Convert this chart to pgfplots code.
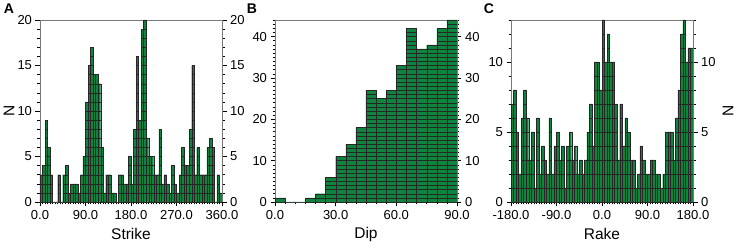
\documentclass[border=0pt]{standalone}
\usepackage{pgfplots}
\pgfplotsset{compat=1.18}
\usepackage{pgfplotstable}
\usepackage{fontspec}
\setmainfont{Liberation Sans}
\definecolor{bargreen}{RGB}{14,132,62}
\definecolor{axgray}{RGB}{120,120,120}

\pgfplotstableread{
x n
0 3
5 4
10 9
15 6
20 3
25 0
30 0
35 3
40 0
45 3
50 4
55 1
60 2
65 2
70 2
75 1
80 3
85 5
90 11
95 15
100 17
105 14
110 14
115 13
120 6
125 1
130 3
135 3
140 1
145 1
150 0
155 3
160 3
165 2
170 2
175 5
180 2
185 8
190 16
195 9
200 19
205 20
210 7
215 5
220 5
225 3
230 3
235 8
240 2
245 3
250 2
255 1
260 4
265 2
270 1
275 3
280 6
285 4
290 4
295 8
300 15
305 3
310 6
315 3
320 3
325 3
330 6
335 7
340 6
345 0
350 3
355 1
360 0
}\dataA

\pgfplotstableread{
x n
0 1
5 0
10 0
15 1
20 2
25 6
30 11
35 14
40 18
45 27
50 25
55 27
60 33
65 42
70 37
75 38
80 42
85 44
90 0
}\dataB

\pgfplotstableread{
x n
-180 7
-175 8
-170 5
-165 2
-160 6
-155 8
-150 6
-145 3
-140 5
-135 1
-130 6
-125 2
-120 4
-115 3
-110 2
-105 6
-100 2
-95 4
-90 5
-85 3
-80 4
-75 1
-70 4
-65 5
-60 3
-55 4
-50 2
-45 3
-40 2
-35 3
-30 5
-25 7
-20 4
-15 10
-10 10
-5 8
0 13
5 10
10 12
15 10
20 10
25 7
30 3
35 7
40 4
45 6
50 5
55 3
60 3
65 1
70 2
75 4
80 3
85 2
90 2
95 3
100 3
105 2
110 2
115 1
120 2
125 5
130 5
135 5
140 3
145 6
150 8
155 12
160 13
165 10
170 11
175 11
180 0
}\dataC

\pgfplotsset{
  panel/.style={
    scale only axis, width=182pt, height=182pt,
    anchor=south west, clip=false,
    tick align=outside,
    major tick length=4.5pt, minor tick length=2.5pt,
    tick style={black, line width=0.5pt},
    axis line style={axgray, line width=0.8pt},
    ticklabel style={font=\fontsize{13}{13}\selectfont},
    label style={font=\fontsize{15.5}{16}\selectfont},
    /pgf/number format/assume math mode=true,
    xtick pos=left,
  },
  bars/.style={ybar interval, fill=bargreen, draw=black!85, line width=0.3pt},
  units/.style={only marks, mark=-, mark size=#1,
    mark options={draw=black!85, line width=0.35pt, line cap=butt},
    restrict y to domain=0.5:100},
}

\begin{document}
\begin{tikzpicture}
\path[use as bounding box] (-40pt,-46pt) rectangle (697pt,202pt);

% ---------------- Panel A ----------------
\begin{axis}[panel, at={(0pt,0pt)},
  xmin=0, xmax=360, ymin=0, ymax=20,
  xtick={0,90,180,270,360}, xticklabels={0.0,90.0,180.0,270.0,360.0},
  minor xtick={0,5,...,360},
  ytick={0,5,10,15,20}, minor ytick={0,1,...,20}, ytick pos=left,
  xlabel={Strike},
  xlabel style={at={(axis description cs:0.5,0)}, anchor=center, yshift=-32pt},
]
\addplot[bars] table[x=x, y=n] {\dataA};
\pgfplotsinvokeforeach{1,...,19}{
  \addplot[units=1.264pt] table[x expr={\thisrow{x}+2.5}, y expr={\thisrow{n}>=#1 ? #1 : -1}] {\dataA};
}
\end{axis}
\begin{axis}[panel, at={(0pt,0pt)},
  xmin=0, xmax=360, ymin=0, ymax=20,
  axis x line=none, axis y line*=right,
  ytick={0,5,10,15,20}, minor ytick={0,1,...,20},
]
\end{axis}

% ---------------- Panel B ----------------
\begin{axis}[panel, at={(235pt,0pt)},
  xmin=0, xmax=90, ymin=0, ymax=44,
  xtick={0,30,60,90}, xticklabels={0.0,30.0,60.0,90.0},
  minor xtick={0,5,...,90},
  ytick={0,10,20,30,40}, minor ytick={0,1,...,44}, ytick pos=left,
  xlabel={Dip},
  xlabel style={at={(axis description cs:0.5,0)}, anchor=center, yshift=-32pt},
]
\addplot[bars] table[x=x, y=n] {\dataB};
\pgfplotsinvokeforeach{1,...,43}{
  \addplot[units=5.056pt] table[x expr={\thisrow{x}+2.5}, y expr={\thisrow{n}>=#1 ? #1 : -1}] {\dataB};
}
\end{axis}
\begin{axis}[panel, at={(235pt,0pt)},
  xmin=0, xmax=90, ymin=0, ymax=44,
  axis x line=none, axis y line*=right,
  ytick={0,10,20,30,40}, minor ytick={0,1,...,44},
]
\end{axis}

% ---------------- Panel C ----------------
\begin{axis}[panel, at={(471pt,0pt)},
  xmin=-180, xmax=180, ymin=0, ymax=13,
  xtick={-180,-90,0,90,180}, xticklabels={-180.0,-90.0,0.0,90.0,180.0},
  minor xtick={-180,-175,...,180},
  ytick={0,5,10}, minor ytick={0,1,...,13}, ytick pos=left,
  xlabel={Rake},
  xlabel style={at={(axis description cs:0.5,0)}, anchor=center, yshift=-32pt},
]
\addplot[bars] table[x=x, y=n] {\dataC};
\pgfplotsinvokeforeach{1,...,12}{
  \addplot[units=1.264pt] table[x expr={\thisrow{x}+2.5}, y expr={\thisrow{n}>=#1 ? #1 : -1}] {\dataC};
}
\end{axis}
\begin{axis}[panel, at={(471pt,0pt)},
  xmin=-180, xmax=180, ymin=0, ymax=13,
  axis x line=none, axis y line*=right,
  ytick={0,5,10}, minor ytick={0,1,...,13},
]
\end{axis}

\node[rotate=90, font=\fontsize{15.5}{16}\selectfont] at (-31pt,91pt) {N};
\node[rotate=90, font=\fontsize{15.5}{16}\selectfont] at (688pt,91pt) {N};
\node[font=\bfseries\fontsize{14}{14}\selectfont] at (-31pt,193pt) {A};
\node[font=\bfseries\fontsize{14}{14}\selectfont] at (212pt,193pt) {B};
\node[font=\bfseries\fontsize{14}{14}\selectfont] at (449pt,193pt) {C};
\end{tikzpicture}
\end{document}
